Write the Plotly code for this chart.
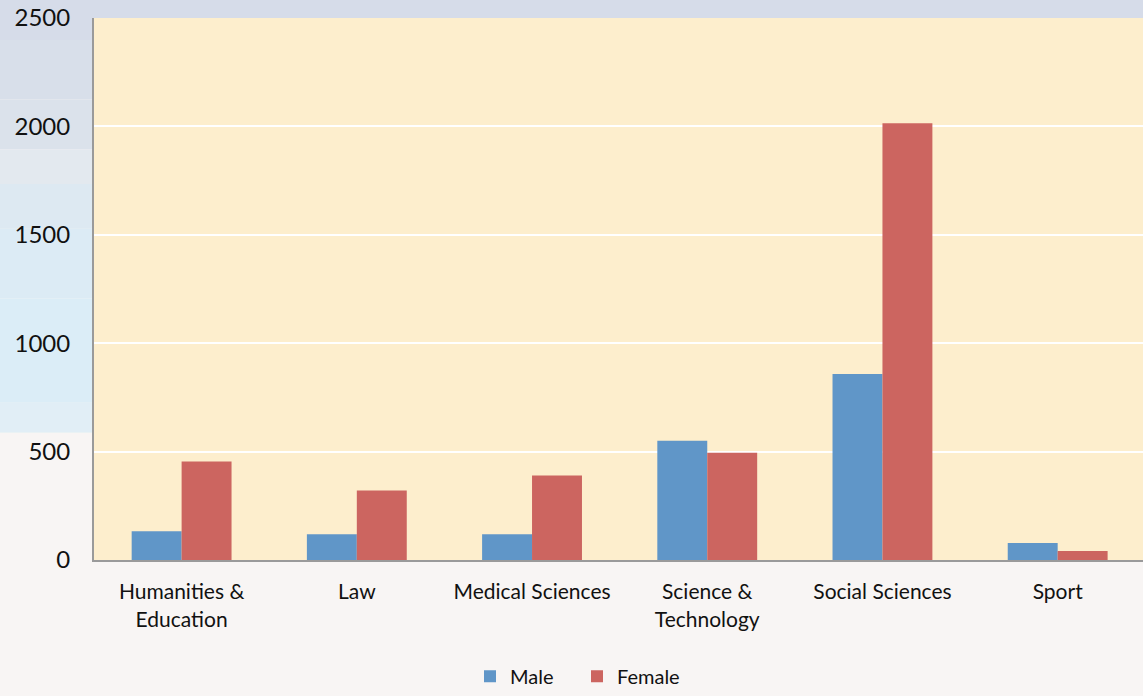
import plotly.graph_objects as go

categories = ["Humanities &<br>Education", "Law", "Medical Sciences",
              "Science &<br>Technology", "Social Sciences", "Sport"]
male = [133, 119, 119, 550, 858, 78]
female = [454, 321, 390, 495, 2014, 41]
y_ticks = [0, 500, 1000, 1500, 2000, 2500]

MALE_COLOR = "#6096c8"
FEMALE_COLOR = "#cc6560"
PLOT_BG = "#fdeecd"
FONT = "Lato"

fig = go.Figure()
fig.add_trace(go.Bar(name="Male", x=categories, y=male,
                     marker=dict(color=MALE_COLOR, line=dict(width=0))))
fig.add_trace(go.Bar(name="Female", x=categories, y=female,
                     marker=dict(color=FEMALE_COLOR, line=dict(width=0))))

H, T, B, L, W = 696, 18, 133, 94, 1143
PH = H - T - B
PW = W - L


def py(px):
    # pixel row -> paper y
    return (H - B - px) / PH


def px_(x):
    # pixel column -> paper x
    return (x - L) / PW


# background gradient approximation (sky / sea photo), pixel rows
bands = [
    (0, 40, "#d6dce9"),
    (40, 100, "#d8dfea"),
    (100, 150, "#dbe2eb"),
    (150, 185, "#e3e9ef"),
    (185, 230, "#dde9f2"),
    (230, 300, "#dcebf5"),
    (300, 405, "#dbedf7"),
    (405, 435, "#e1eef6"),
    (435, 700, "#f8f5f4"),
]
shapes = []
for y0, y1, c in bands:
    shapes.append(dict(type="rect", xref="paper", yref="paper",
                       x0=-0.2, x1=1.1, y0=py(y1), y1=py(y0),
                       fillcolor=c, line=dict(width=0), layer="below"))
# plot area colour on top of the background bands
shapes.append(dict(type="rect", xref="paper", yref="paper",
                   x0=0, x1=1, y0=0, y1=1, fillcolor=PLOT_BG,
                   line=dict(width=0), layer="below"))

fig.update_layout(
    width=W, height=H,
    margin=dict(l=L, r=0, t=T, b=B),
    paper_bgcolor="#f8f5f4",
    plot_bgcolor=PLOT_BG,
    barmode="group",
    bargap=0.43,
    bargroupgap=0,
    font=dict(family=FONT, color="#111111", size=20),
    shapes=shapes,
    showlegend=True,
    legend=dict(orientation="h", x=px_(470), xanchor="left", y=py(680),
                yanchor="middle", font=dict(size=20, family=FONT),
                bgcolor="rgba(0,0,0,0)", entrywidth=62,
                entrywidthmode="pixels", traceorder="normal"),
    xaxis=dict(range=[-0.5, 5.487], showgrid=False, showline=True,
               linecolor="#9a9a9a", linewidth=2, ticks="",
               tickfont=dict(size=21), ticklabelstandoff=12),
    yaxis=dict(range=[0, 2500], tickvals=y_ticks, showgrid=True,
               gridcolor="#ffffff", gridwidth=2, showline=True,
               linecolor="#9a9a9a", linewidth=2, ticks="", zeroline=False,
               tickfont=dict(size=24), ticklabelstandoff=17),
)

fig.write_html("out.html",
               config={"displayModeBar": False},
               post_script="document.body.style.margin='0';"
                           "document.body.style.background='#f8f5f4';")
